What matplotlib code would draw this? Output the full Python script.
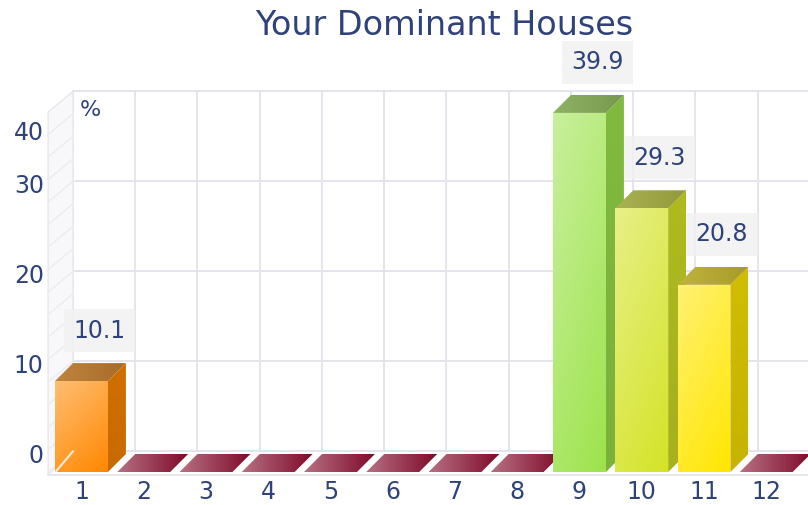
import numpy as np
import matplotlib.pyplot as plt
from matplotlib.patches import Polygon
from matplotlib.colors import to_rgb

# data
houses = ['1', '2', '3', '4', '5', '6', '7', '8', '9', '10', '11', '12']
values = [10.1, 0, 0, 0, 0, 0, 0, 0, 39.9, 29.3, 20.8, 0]
colors = ['#ff8800', '#800a2a', '#800a2a', '#800a2a', '#800a2a', '#800a2a',
          '#800a2a', '#800a2a', '#9de34c', '#d4e326', '#ffe600', '#800a2a']
yticks = [0, 10, 20, 30, 40]

txt = '#2f4279'
grid_c = '#e2e2ec'

# 3d geometry (in data units)
w = 0.85       # bar width
dx, dy = 0.289, 2.0    # bar depth
dyw = 2.3      # back wall offset
wall_x = -0.11
xmin, xmax = -55 / 62.25, (808 - 55) / 62.25
ymin, ymax = (472 - 505) / 9, 472 / 9


def mix(c, other, f):
    return tuple(np.array(to_rgb(c)) * (1 - f) + np.array(to_rgb(other)) * f)


def shade(ax, verts, c0, c1, d, z):
    verts = np.asarray(verts, dtype=float)
    poly = Polygon(verts, closed=True, fc='none', ec='none', zorder=z)
    ax.add_patch(poly)
    x0, y0 = verts.min(0)
    x1, y1 = verts.max(0)
    u, v = np.meshgrid(np.linspace(0, 1, 60), np.linspace(0, 1, 60))
    t = d[0] * u + d[1] * (1 - v)
    t = (t - t.min()) / (t.max() - t.min())
    img = (1 - t)[..., None] * np.array(to_rgb(c0)) + t[..., None] * np.array(to_rgb(c1))
    im = ax.imshow(img, extent=[x0, x1, y0, y1], origin='lower', aspect='auto',
                   interpolation='bilinear', zorder=z)
    im.set_clip_path(poly)


fig = plt.figure(figsize=(8.08, 5.05), dpi=100)
ax = fig.add_axes([0, 0, 1, 1])
ax.axis('off')

# back wall grid
for v in yticks:
    ax.plot([dx, xmax], [v + dyw, v + dyw], color=grid_c, lw=1.3, zorder=1)
for k in range(13):
    ax.plot([k + dx, k + dx], [dyw, 40 + dyw], color=grid_c, lw=1.3, zorder=1)

# left wall
wall = Polygon([(wall_x, -0.3), (wall_x, 40), (dx, 40 + dyw), (dx, dyw)],
               closed=True, fc='#f8f8fa', ec='#e8e8ef', lw=1, zorder=1.5)
ax.add_patch(wall)
for v in np.arange(0, 40, 2.5):
    ax.plot([wall_x, dx], [v, v + dyw], color='#ebebf1', lw=1, zorder=1.6)

# floor edge
ax.plot([wall_x, xmax], [-0.3, -0.3], color='#e4e4ec', lw=1.3, zorder=1.6)

# bars
for i, (val, c) in enumerate(zip(values, colors)):
    x0 = i
    if val == 0:
        tile = [(x0, 0), (x0 + w, 0), (x0 + w + dx, dy), (x0 + dx, dy)]
        shade(ax, tile, mix(c, 'white', 0.42), c, (1, 0), 3 + i)
        continue
    side = [(x0 + w, 0), (x0 + w + dx, dy), (x0 + w + dx, val + dy), (x0 + w, val)]
    top = [(x0, val), (x0 + w, val), (x0 + w + dx, val + dy), (x0 + dx, val + dy)]
    front = [(x0, 0), (x0 + w, 0), (x0 + w, val), (x0, val)]
    shade(ax, side, mix(c, 'black', 0.18), mix(c, 'black', 0.22), (0, 1), 3 + i)
    shade(ax, top, mix(c, '#808080', 0.5), mix(c, '#505050', 0.5), (1, 0), 3 + i)
    shade(ax, front, mix(c, 'white', 0.45), c, (0.35, 0.65), 3 + i)
    ax.text(x0 + w / 2 + dx, val + 5.6, f'{val:.1f}', ha='center', va='center',
            fontsize=17, color=txt, zorder=20,
            bbox=dict(boxstyle='square,pad=0.4', fc='#f2f2f2', ec='none', alpha=0.85))

# wall/floor seam over the first bar
ax.plot([0.02, dx], [0.1, dyw], color='white', lw=1.5, alpha=0.8, zorder=16)

# axis labels
for v in yticks:
    yl = v + 1.8 if v < 40 else v - 2.3   # top label sits lower in the original
    ax.text(-0.18, yl, str(v), ha='right', va='center', fontsize=17, color=txt)
for i, h in enumerate(houses):
    ax.text(i + w / 2, -2.2, h, ha='center', va='center', fontsize=17, color=txt)
ax.text(0.40, 41.3, '%', ha='left', va='top', fontsize=16, color=txt)

fig.text(0.5495, 1 - 35 / 505, 'Your Dominant Houses', ha='center', va='baseline',
         fontsize=24, color=txt)

ax.set_xlim(xmin, xmax)
ax.set_ylim(ymin, ymax)
ax.set_aspect('auto')
plt.savefig('out.png', dpi=100)
